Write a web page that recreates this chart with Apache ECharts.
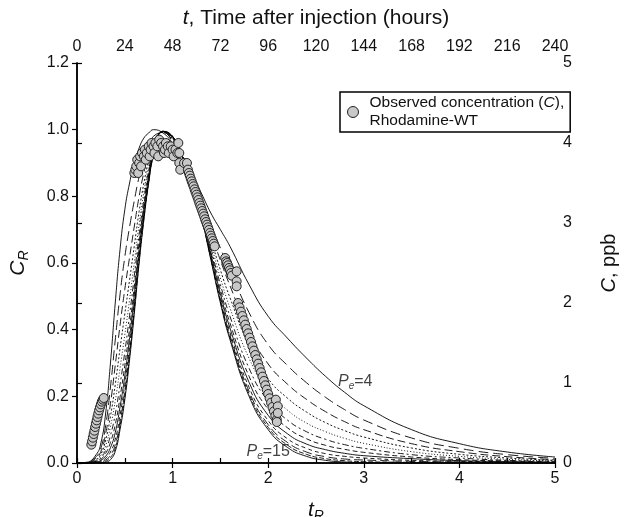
<!DOCTYPE html>
<html>
<head>
<meta charset="utf-8">
<script src="https://cdn.jsdelivr.net/npm/echarts@6/dist/echarts.min.js"></script>
<style>
html, body { margin: 0; padding: 0; background: #fff; }
#chart { width: 633px; height: 517px; }
</style>
</head>
<body>
<div id="chart"></div>
<script>
// relative time t_R, shared by all model curves
var tR = [0, 0.1, 0.2, 0.25, 0.3, 0.35, 0.4, 0.45, 0.5, 0.55, 0.6, 0.65, 0.7, 0.75, 0.8, 0.9, 1.0,
    1.1, 1.2, 1.3, 1.4, 1.5, 1.6, 1.8, 2.0, 2.2, 2.4, 2.6, 2.8, 3.0, 3.5, 4.0, 4.5, 5.0];

// model curves C_R, one per Peclet number
var pe4 = [0, 0.002, 0.025, 0.06, 0.15, 0.3, 0.48, 0.64, 0.76, 0.84, 0.9, 0.945, 0.975, 0.99, 1.0, 0.99, 0.96,
    0.92, 0.87, 0.81, 0.75, 0.7, 0.65, 0.535, 0.44, 0.375, 0.315, 0.26, 0.212, 0.172, 0.1, 0.058, 0.033, 0.018];
var pe5 = [0, 0.002, 0.019, 0.045, 0.113, 0.228, 0.369, 0.505, 0.618, 0.708, 0.788, 0.859, 0.914, 0.953, 0.98, 0.991, 0.965,
    0.92, 0.865, 0.793, 0.715, 0.645, 0.58, 0.451, 0.355, 0.293, 0.241, 0.197, 0.16, 0.129, 0.075, 0.044, 0.025, 0.014];
var pe6 = [0, 0.001, 0.015, 0.035, 0.088, 0.178, 0.293, 0.413, 0.521, 0.617, 0.711, 0.8, 0.872, 0.927, 0.966, 0.992, 0.968,
    0.92, 0.862, 0.781, 0.691, 0.608, 0.532, 0.394, 0.297, 0.237, 0.191, 0.154, 0.124, 0.1, 0.058, 0.034, 0.019, 0.01];
var pe7 = [0, 0.001, 0.011, 0.027, 0.069, 0.14, 0.235, 0.343, 0.447, 0.549, 0.653, 0.755, 0.84, 0.908, 0.956, 0.993, 0.971,
    0.92, 0.859, 0.772, 0.673, 0.579, 0.496, 0.351, 0.253, 0.195, 0.153, 0.121, 0.097, 0.078, 0.045, 0.026, 0.015, 0.008];
var pe8 = [0, 0.001, 0.009, 0.02, 0.052, 0.109, 0.186, 0.284, 0.384, 0.49, 0.603, 0.717, 0.813, 0.891, 0.947, 0.993, 0.973,
    0.92, 0.857, 0.764, 0.658, 0.555, 0.465, 0.314, 0.216, 0.159, 0.12, 0.094, 0.074, 0.059, 0.034, 0.02, 0.011, 0.006];
var pe9 = [0, 0, 0.006, 0.015, 0.039, 0.083, 0.146, 0.235, 0.333, 0.443, 0.563, 0.686, 0.791, 0.878, 0.94, 0.994, 0.975,
    0.92, 0.855, 0.758, 0.645, 0.535, 0.44, 0.284, 0.185, 0.129, 0.094, 0.071, 0.055, 0.044, 0.025, 0.015, 0.008, 0.005];
var pe10 = [0, 0, 0.005, 0.011, 0.029, 0.062, 0.115, 0.197, 0.293, 0.405, 0.531, 0.662, 0.774, 0.867, 0.934, 0.994, 0.976,
    0.92, 0.854, 0.753, 0.635, 0.52, 0.42, 0.26, 0.161, 0.106, 0.073, 0.053, 0.041, 0.032, 0.018, 0.01, 0.006, 0.003];
var pe11 = [0, 0, 0.003, 0.008, 0.02, 0.046, 0.091, 0.168, 0.261, 0.376, 0.506, 0.643, 0.761, 0.859, 0.93, 0.994, 0.978,
    0.92, 0.853, 0.749, 0.628, 0.508, 0.405, 0.242, 0.143, 0.088, 0.057, 0.04, 0.029, 0.022, 0.013, 0.007, 0.004, 0.002];
var pe12 = [0, 0, 0.002, 0.005, 0.014, 0.033, 0.071, 0.143, 0.236, 0.352, 0.486, 0.628, 0.75, 0.852, 0.926, 0.995, 0.978,
    0.92, 0.852, 0.746, 0.621, 0.498, 0.392, 0.227, 0.127, 0.073, 0.044, 0.028, 0.02, 0.015, 0.008, 0.005, 0.003, 0.001];
var pe13 = [0, 0, 0.001, 0.003, 0.009, 0.023, 0.055, 0.124, 0.216, 0.334, 0.47, 0.616, 0.741, 0.847, 0.924, 0.995, 0.979,
    0.92, 0.851, 0.743, 0.616, 0.49, 0.383, 0.215, 0.115, 0.062, 0.033, 0.019, 0.012, 0.009, 0.005, 0.003, 0.001, 0.001];
var pe14 = [0, 0, 0.001, 0.001, 0.005, 0.016, 0.044, 0.111, 0.201, 0.321, 0.459, 0.607, 0.735, 0.843, 0.922, 0.995, 0.98,
    0.92, 0.85, 0.741, 0.613, 0.484, 0.376, 0.207, 0.107, 0.054, 0.026, 0.013, 0.007, 0.004, 0.002, 0.001, 0.001, 0];
var pe15 = [0, 0, 0, 0, 0.002, 0.01, 0.035, 0.1, 0.19, 0.31, 0.45, 0.6, 0.73, 0.84, 0.92, 0.995, 0.98,
    0.92, 0.85, 0.74, 0.61, 0.48, 0.37, 0.2, 0.1, 0.047, 0.02, 0.008, 0.003, 0.001, 0, 0, 0, 0];

var peValues = [4, 5, 6, 7, 8, 9, 10, 11, 12, 13, 14, 15];
var peCurves = [pe4, pe5, pe6, pe7, pe8, pe9, pe10, pe11, pe12, pe13, pe14, pe15];

// observed Rhodamine-WT, [t_R, C_R]
var observed = [
    [0.15, 0.055], [0.158, 0.065], [0.166, 0.076], [0.174, 0.087], [0.182, 0.097], [0.19, 0.108],
    [0.198, 0.118], [0.206, 0.128], [0.214, 0.138], [0.222, 0.148], [0.231, 0.158], [0.24, 0.167],
    [0.25, 0.176], [0.26, 0.184], [0.27, 0.19], [0.28, 0.195],
    [0.6, 0.87], [0.61, 0.88], [0.62, 0.89], [0.63, 0.91], [0.64, 0.87], [0.65, 0.9], [0.66, 0.92],
    [0.67, 0.89], [0.68, 0.93], [0.7, 0.92], [0.71, 0.94], [0.72, 0.91], [0.73, 0.93], [0.75, 0.95],
    [0.76, 0.92], [0.77, 0.94], [0.78, 0.96], [0.8, 0.95], [0.81, 0.93], [0.82, 0.96], [0.84, 0.95],
    [0.85, 0.92], [0.86, 0.97], [0.88, 0.96], [0.9, 0.95], [0.91, 0.93], [0.92, 0.94], [0.93, 0.96],
    [0.95, 0.95], [0.96, 0.93], [0.98, 0.95], [1.0, 0.94], [1.01, 0.92], [1.03, 0.94], [1.05, 0.93],
    [1.06, 0.96], [1.07, 0.93], [1.07, 0.9], [1.08, 0.88], [1.12, 0.9], [1.15, 0.9],
    [1.16, 0.88], [1.17, 0.87], [1.18, 0.862], [1.19, 0.853], [1.2, 0.845], [1.21, 0.837], [1.22, 0.83],
    [1.23, 0.821], [1.24, 0.813], [1.25, 0.805], [1.26, 0.797], [1.27, 0.789], [1.28, 0.78], [1.29, 0.772],
    [1.3, 0.764], [1.31, 0.756], [1.32, 0.748], [1.33, 0.74], [1.34, 0.731], [1.35, 0.723], [1.36, 0.715],
    [1.37, 0.707], [1.38, 0.699], [1.39, 0.69], [1.4, 0.682], [1.41, 0.674], [1.42, 0.666], [1.43, 0.658],
    [1.44, 0.65],
    [1.55, 0.615], [1.56, 0.605], [1.57, 0.6], [1.58, 0.593], [1.59, 0.585], [1.6, 0.578], [1.61, 0.57],
    [1.62, 0.562], [1.67, 0.575], [1.67, 0.545], [1.67, 0.53],
    [1.685, 0.48], [1.7, 0.467], [1.715, 0.454], [1.73, 0.441], [1.745, 0.428], [1.76, 0.415], [1.775, 0.402],
    [1.79, 0.389], [1.805, 0.376], [1.82, 0.363], [1.835, 0.35], [1.85, 0.337], [1.865, 0.324], [1.88, 0.311],
    [1.895, 0.298], [1.91, 0.285], [1.925, 0.272], [1.94, 0.259], [1.955, 0.246], [1.97, 0.233], [1.985, 0.22],
    [2.0, 0.207], [2.015, 0.194], [2.03, 0.181], [2.045, 0.168], [2.06, 0.155], [2.075, 0.142], [2.09, 0.13],
    [2.08, 0.19], [2.1, 0.17], [2.1, 0.15], [2.09, 0.123]
];

// curve labels [t_R, C_R, Pe]
var peLabels = [[2.91, 0.245, 4], [2.0, 0.035, 15]];

var dashes = ['solid', [10, 5], [8, 4], [2, 2], [1, 2], [6, 3, 2, 3], [5, 3], 'solid', [4, 3], [9, 4], [5, 2], 'solid'];

var font = 'Liberation Sans, Arial, sans-serif';

var myChart = echarts.init(document.getElementById('chart'));

var series = [];
for (var i = 0; i < peCurves.length; i++) {
    series.push({
        name: 'Pe=' + peValues[i],
        type: 'line',
        data: tR.map(function (x, j) { return [x, peCurves[i][j]]; }),
        showSymbol: false,
        smooth: 0.5,
        silent: true,
        z: 2,
        lineStyle: { color: '#000', width: 0.9, type: dashes[i] }
    });
}

series.push({
    name: 'Observed',
    type: 'scatter',
    data: observed,
    symbol: 'circle',
    symbolSize: 9,
    z: 3,
    itemStyle: { color: '#c8c8c8', borderColor: '#222', borderWidth: 1, opacity: 1 }
});

series.push({
    type: 'scatter',
    data: peLabels,
    symbolSize: 0,
    silent: true,
    z: 4,
    label: {
        show: true,
        position: 'inside',
        formatter: function (p) { return '{i|P}{s|e}{n|=' + p.value[2] + '}'; },
        rich: {
            i: { fontFamily: font, fontSize: 16, fontStyle: 'italic', color: '#111' },
            s: { fontFamily: font, fontSize: 10, fontStyle: 'italic', color: '#111', padding: [9, 0, 0, 0] },
            n: { fontFamily: font, fontSize: 16, color: '#111' }
        }
    }
});

var axisLine = { show: true, lineStyle: { color: '#000', width: 1.5 } };
var axisTick = { show: true, length: 5, lineStyle: { color: '#000', width: 1.2 } };
var axisLabel = { color: '#111', fontSize: 16, fontFamily: font };

var option = {
    animation: false,
    backgroundColor: '#fff',
    grid: { left: 77, right: 78, top: 63, bottom: 54, outerBoundsMode: 'none', containLabel: false },
    legend: {
        data: ['Observed'],
        left: 340,
        top: 92,
        orient: 'vertical',
        icon: 'circle',
        itemWidth: 11,
        itemHeight: 11,
        itemGap: 0,
        padding: [3, 6, 3, 7],
        borderColor: '#000',
        borderWidth: 1.5,
        borderRadius: 0,
        itemStyle: { color: '#c8c8c8', borderColor: '#222', borderWidth: 1 },
        formatter: function () {
            return '{f|Observed concentration (}{i|C}{a|),}\n{f|Rhodamine-WT}';
        },
        textStyle: {
            rich: {
                f: { fontFamily: font, fontSize: 15.5, color: '#111', lineHeight: 18, padding: [0, 0, 0, 6] },
                a: { fontFamily: font, fontSize: 15.5, color: '#111', lineHeight: 18 },
                i: { fontFamily: font, fontSize: 15.5, fontStyle: 'italic', color: '#111', lineHeight: 18 }
            }
        }
    },
    xAxis: [{
        type: 'value',
        position: 'bottom',
        min: 0,
        max: 5,
        interval: 1,
        splitLine: { show: false },
        axisLine: axisLine,
        axisTick: axisTick,
        axisLabel: axisLabel,
        name: '{i|t}{s|R}',
        nameLocation: 'middle',
        nameGap: 34,
        nameTextStyle: {
            rich: {
                i: { fontFamily: font, fontSize: 21, fontStyle: 'italic', color: '#111' },
                s: { fontFamily: font, fontSize: 14, fontStyle: 'italic', color: '#111', padding: [12, 0, 0, 0] }
            }
        }
    }, {
        type: 'value',
        position: 'top',
        min: 0,
        max: 240,
        interval: 24,
        splitLine: { show: false },
        axisLine: axisLine,
        axisTick: axisTick,
        axisLabel: axisLabel,
        name: '{i|t}{a|, Time after injection (hours)}',
        nameLocation: 'middle',
        nameGap: 34,
        nameTextStyle: {
            rich: {
                i: { fontFamily: font, fontSize: 21, fontStyle: 'italic', color: '#111' },
                a: { fontFamily: font, fontSize: 21, color: '#111' }
            }
        }
    }],
    yAxis: [{
        type: 'value',
        position: 'left',
        min: 0,
        max: 1.2,
        interval: 0.2,
        splitLine: { show: false },
        axisLine: axisLine,
        axisTick: axisTick,
        axisLabel: Object.assign({}, axisLabel, {
            formatter: function (v) { return v.toFixed(1); }
        }),
        name: '{i|C}{s|R}',
        nameLocation: 'middle',
        nameRotate: 90,
        nameGap: 46,
        nameTextStyle: {
            rich: {
                i: { fontFamily: font, fontSize: 21, fontStyle: 'italic', color: '#111' },
                s: { fontFamily: font, fontSize: 14, fontStyle: 'italic', color: '#111', padding: [12, 0, 0, 0] }
            }
        }
    }, {
        type: 'value',
        position: 'right',
        min: 0,
        max: 5,
        interval: 1,
        splitLine: { show: false },
        axisLine: axisLine,
        axisTick: axisTick,
        axisLabel: axisLabel,
        name: '{i|C}{a|, ppb}',
        nameLocation: 'middle',
        nameRotate: 90,
        nameGap: 44,
        nameTextStyle: {
            rich: {
                i: { fontFamily: font, fontSize: 20, fontStyle: 'italic', color: '#111' },
                a: { fontFamily: font, fontSize: 20, color: '#111' }
            }
        }
    }],
    series: series
};

myChart.setOption(option);
window.addEventListener('resize', function () {
    myChart.resize();
});
</script>
</body>
</html>
